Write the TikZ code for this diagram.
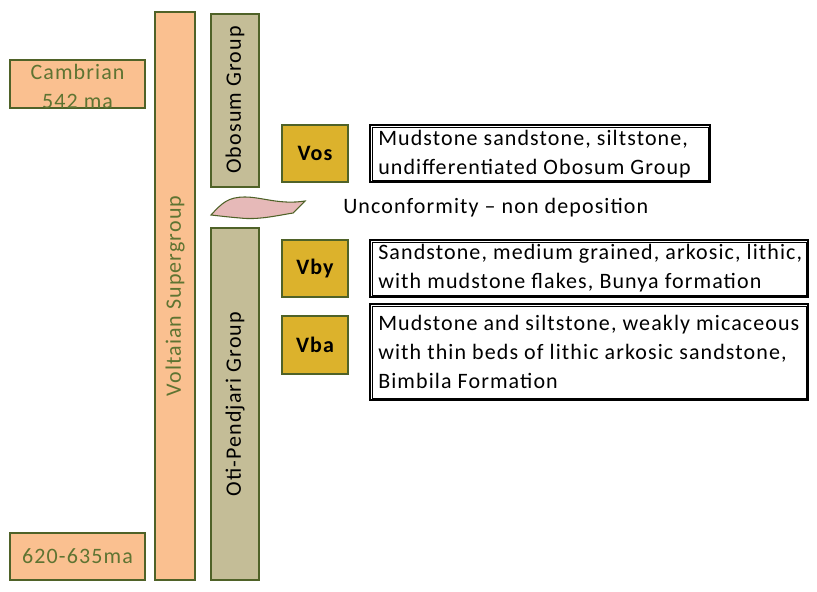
\documentclass[tikz,border=0pt]{standalone}
\usepackage{fontspec}
\setmainfont{Carlito}[LetterSpace=5]
\definecolor{peach}{RGB}{250,192,144}
\definecolor{tanbar}{RGB}{196,189,151}
\definecolor{olivedge}{RGB}{79,98,40}
\definecolor{olivetext}{RGB}{94,116,50}
\definecolor{unitgold}{RGB}{220,178,44}
\definecolor{wavepink}{RGB}{230,185,184}
\tikzset{
  every node/.style={font=\fontsize{16.5}{21.75}\selectfont, inner sep=0pt},
  agebox/.style={draw=olivedge, line width=2.2pt, fill=peach},
  groupbar/.style={draw=olivedge, line width=1.4pt, fill=tanbar},
  unitbox/.style={draw=olivedge, line width=2.2pt, fill=unitgold},
  descouter/.style={draw=black, line width=0.9pt},
  descinner/.style={draw=black, line width=0.5pt},
  desctext/.style={anchor=west, align=left},
  unitlabel/.style={font=\fontsize{16.5}{21.75}\selectfont\bfseries},
}
\begin{document}
\begin{tikzpicture}[x=0.75pt,y=0.75pt,yscale=-1]
\useasboundingbox (0,0) rectangle (817,592);

%Shape: Rectangle -- ages
\draw [agebox] (10,60) rectangle (145,108);
\draw [agebox] (10,533) rectangle (145,580);
%Shape: Rectangle -- supergroup
\draw [agebox] (155,12) rectangle (195,580);
%Shape: Rectangle -- groups
\draw [groupbar] (211,14) rectangle (259,187);
\draw [groupbar] (211,228) rectangle (259,580);

%Shape: Wave -- unconformity
\draw [draw=olivedge, line width=0.8pt, fill=wavepink] (211,215) .. controls (222,203) and (228,197) .. (245,197) .. controls (262,197) and (280,205) .. (305,201) -- (293,213) .. controls (275,216) and (258,220) .. (240,218) .. controls (228,217) and (220,216) .. (211,215) -- cycle;

%Shape: Rectangle -- units
\draw [unitbox] (282,125) rectangle (348,182);
\draw [unitbox] (282,240) rectangle (348,297);
\draw [unitbox] (282,316) rectangle (348,374);

%Shape: Rectangle -- descriptions (double line)
\draw [descouter] (370,125) rectangle (710,182);
\draw [descinner] (372,127) rectangle (708,180);
\draw [descouter] (370,240) rectangle (808,297);
\draw [descinner] (372,242) rectangle (806,295);
\draw [descouter] (370,304) rectangle (808,400);
\draw [descinner] (372,306) rectangle (806,398);

% Text Node
\node (cambrian) at (77.5,86.5) [align=center, text=olivetext] {Cambrian\\542 ma};
% Text Node
\node (base) at (77.5,556) [text=olivetext] {620-635ma};
% Text Node
\node (voltaian) at (175,296) [rotate=90, text=olivetext] {Voltaian Supergroup};
% Text Node
\node (obosum) at (235,100) [rotate=90] {Obosum Group};
% Text Node
\node (oti) at (235,404) [rotate=90] {Oti-Pendjari Group};
% Text Node
\node (unconf) at (343,208) [anchor=west] {Unconformity -- non deposition};
% Text Node
\node (vos) at (315,153.5) [unitlabel] {Vos};
\node (vby) at (315,268.5) [unitlabel] {Vby};
\node (vba) at (315,345) [unitlabel] {Vba};
% Text Node
\node (vosdesc) at (378,154) [desctext] {Mudstone sandstone, siltstone,\\undifferentiated Obosum Group};
\node (vbydesc) at (378,268.5) [desctext] {Sandstone, medium grained, arkosic, lithic,\\with mudstone flakes, Bunya formation};
\node (vbadesc) at (378,352) [desctext] {Mudstone and siltstone, weakly micaceous\\with thin beds of lithic arkosic sandstone,\\Bimbila Formation};

\end{tikzpicture}
\end{document}
